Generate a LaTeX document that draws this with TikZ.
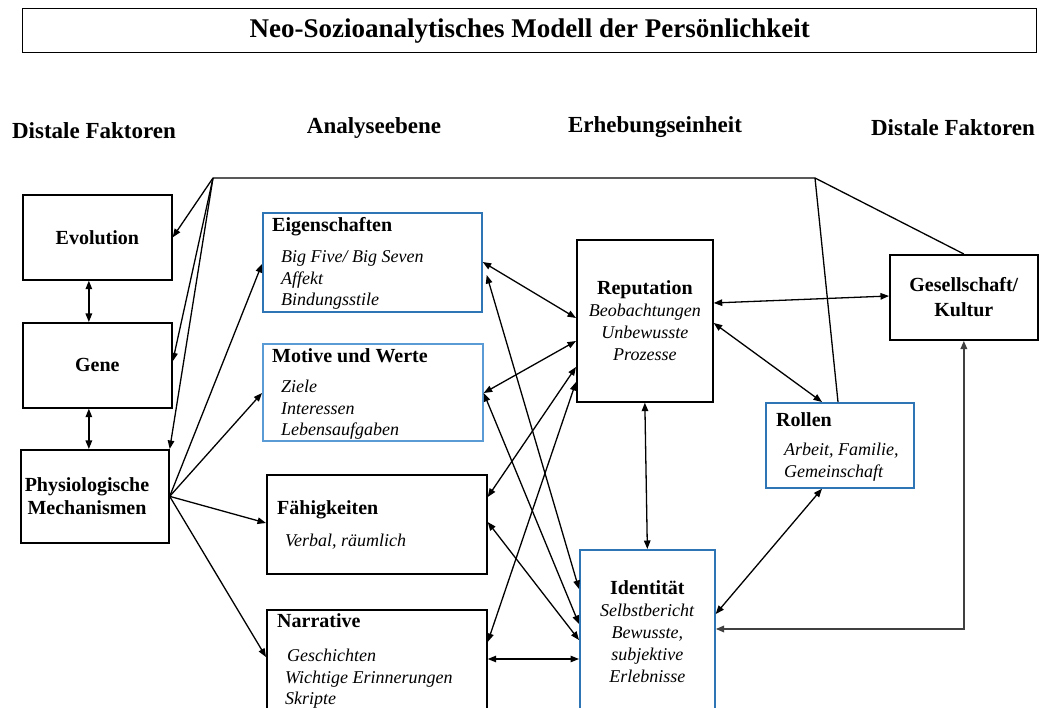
\documentclass[tikz,border=0pt]{standalone}
\usepackage{fontspec}
\setmainfont{Liberation Serif}
\usetikzlibrary{arrows.meta}
\definecolor{boxblue}{RGB}{46,117,182}
\definecolor{paleblue}{RGB}{91,155,213}
\definecolor{elbowgray}{RGB}{64,64,64}
\begin{document}
\begin{tikzpicture}[x=1pt,y=-1pt,
  box/.style={draw=black, line width=1.7pt, inner sep=0pt, anchor=north west, align=center},
  bbox/.style={box, draw=boxblue},
  pbox/.style={box, draw=paleblue},
  titlefont/.style={font=\fontsize{27}{32}\selectfont\bfseries},
  headfont/.style={font=\fontsize{23}{28}\selectfont\bfseries},
  boxhead/.style={font=\fontsize{20}{24}\selectfont\bfseries, inner sep=0pt, anchor=west},
  itemtext/.style={font=\fontsize{18}{21.6}\selectfont\itshape, inner sep=0pt, anchor=west, align=left},
  centretext/.style={font=\fontsize{20}{24}\selectfont\bfseries},
  tip/.tip={Triangle[length=8.5pt,width=6.5pt]},
  plain/.style={line width=1.3pt, black},
  arr/.style={plain, -tip},
  dbl/.style={plain, tip-tip},
  elbow/.style={line width=1.9pt, draw=elbowgray}
]
\clip (0,0) rectangle (1039,708);
\fill[white] (0,0) rectangle (1039,708);

% title
\node[box, line width=1.3pt, minimum width=1014pt, minimum height=44pt, titlefont] (titlebox) at (22,8)
  {Neo-Sozioanalytisches Modell der Persönlichkeit};

% column headers
\node[headfont] (hleft)  at (94,131)  {Distale Faktoren};
\node[headfont] (hana)   at (374,128) {Analyseebene};
\node[headfont] (herh)   at (655,127) {Erhebungseinheit};
\node[headfont] (hright) at (953,128) {Distale Faktoren};

% distal factors, left
\node[box, minimum width=149pt, minimum height=85pt, centretext] (evo)  at (22,194) {Evolution};
\node[box, minimum width=149pt, minimum height=85pt, centretext] (gene) at (22,322) {Gene};
\node[box, minimum width=148pt, minimum height=93pt] (phys) at (20,449) {};
\node[font=\fontsize{20}{23}\selectfont\bfseries, align=center, inner sep=0pt] (physT) at (87,496)
  {Physiologische\\Mechanismen};

% levels of analysis
\node[bbox, minimum width=219pt, minimum height=99pt] (eig) at (262,212) {};
\node[boxhead] (eigT) at (272,227) {Eigenschaften};
\node[itemtext] (eigI) at (281,280) {Big Five/ Big Seven\\Affekt\\Bindungsstile};

\node[pbox, minimum width=220pt, minimum height=97pt] (mot) at (262,343) {};
\node[boxhead] (motT) at (272,356) {Motive und Werte};
\node[itemtext] (motI) at (281,410) {Ziele\\Interessen\\Lebensaufgaben};

\node[box, minimum width=220pt, minimum height=99pt] (fae) at (266,474) {};
\node[boxhead] (faeT) at (277,510) {Fähigkeiten};
\node[itemtext] (faeI) at (285,542) {Verbal, räumlich};

\node[box, minimum width=220pt, minimum height=130pt] (nar) at (266,609) {};
\node[boxhead] (narT) at (277,621) {Narrative};
\node[itemtext] (narI) at (285,679) {\hspace*{2pt}Geschichten\\Wichtige Erinnerungen\\Skripte};

% units of assessment
\node[box, minimum width=136pt, minimum height=162pt, font=\fontsize{18}{22}\selectfont] (rep) at (576,239)
  {{\fontsize{20}{24}\selectfont\bfseries Reputation}\\\textit{Beobachtungen}\\\textit{Unbewusste}\\\textit{Prozesse}};
\node[bbox, minimum width=135pt, minimum height=164pt, font=\fontsize{18}{22}\selectfont] (ide) at (579,549)
  {{\fontsize{20}{24}\selectfont\bfseries Identität}\\\textit{Selbstbericht}\\\textit{Bewusste,}\\\textit{subjektive}\\\textit{Erlebnisse}};

% distal factors, right
\node[box, minimum width=148pt, minimum height=85pt, font=\fontsize{20}{25}\selectfont\bfseries] (ges) at (889,254)
  {Gesellschaft/\\Kultur};
\node[bbox, minimum width=148pt, minimum height=85pt] (rol) at (765,402) {};
\node[boxhead] (rolT) at (776,420) {Rollen};
\node[itemtext] (rolI) at (784,462) {Arbeit, Familie,\\Gemeinschaft};

% frame line across the top
\coordinate (J1) at (213,178);
\coordinate (J2) at (815,178);
\draw[plain] (J1) -- (J2) -- (ges.north);
\draw[plain] (J2) -- ([xshift=73pt]rol.north west);
\draw[arr] (J1) -- (evo.east);
\draw[arr] (J1) -- ([yshift=4pt]gene.east);
\draw[arr] (J1) -- (phys.north east);

% links between the distal factors
\draw[dbl] ([xshift=-8.5pt]evo.south) -- ([xshift=-8.5pt]gene.north);
\draw[dbl] ([xshift=-8.5pt]gene.south) -- ([xshift=-6pt]phys.north);

% physiology to the levels of analysis
\draw[arr] (phys.east) -- ([yshift=-52pt]eig.north west);
\draw[arr] (phys.east) -- ([yshift=-50pt]mot.north west);
\draw[arr] (phys.east) -- ([yshift=-49pt]fae.north west);
\draw[arr] (phys.east) -- ([yshift=-48pt]nar.north west);

% levels of analysis to reputation and identity
\draw[dbl] ([yshift=-50pt]eig.north east) -- ([yshift=-79pt]rep.north west);
\draw[dbl] ([xshift=4pt,yshift=-63pt]eig.north east) -- ([yshift=-40pt]ide.north west);
\draw[dbl] ([yshift=-50pt]mot.north east) -- ([yshift=-102pt]rep.north west);
\draw[dbl] ([yshift=-50pt]mot.north east) -- ([yshift=-75pt]ide.north west);
\draw[dbl] ([yshift=-23pt]fae.north east) -- ([yshift=-128pt]rep.north west);
\draw[dbl] ([yshift=-48pt]fae.north east) -- ([yshift=-91pt]ide.north west);
\draw[dbl] ([yshift=-33pt]nar.north east) -- ([yshift=-143pt]rep.north west);
\draw[dbl] ([yshift=-50pt]nar.north east) -- ([yshift=-110pt]ide.north west);

% right-hand links
\draw[dbl] ([yshift=-64pt]rep.north east) -- ([yshift=-42pt]ges.north west);
\draw[dbl] ([yshift=-84pt]rep.north east) -- ([xshift=57pt]rol.north west);
\draw[dbl] (rep.south) -- (ide.north);
\draw[dbl] ([xshift=57pt]rol.south west) -- ([yshift=-65pt]ide.north east);
\draw[dbl, elbow] (ges.south) |- ([yshift=-80pt]ide.north east);
\end{tikzpicture}
\end{document}
